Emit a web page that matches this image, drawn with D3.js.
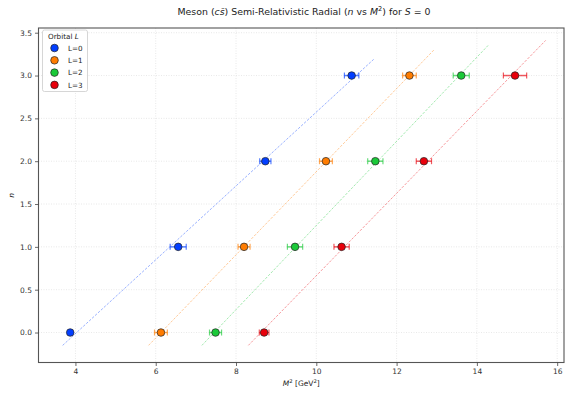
<!DOCTYPE html>
<html>
<head>
<meta charset="utf-8">
<script src="https://cdn.jsdelivr.net/npm/d3@7/dist/d3.min.js"></script>
<style>
  body { margin: 0; background: #fff; }
  svg { font-family: "DejaVu Sans", sans-serif; }
</style>
</head>
<body>
<svg id="chart" width="566" height="394"></svg>
<script>
// Radial quantum number n for each orbital series
const radialN = [0, 1, 2, 3];
const orbitalLabels = ["L=0", "L=1", "L=2", "L=3"];
const colors = ["#023eff", "#ff7c00", "#1ac938", "#e8000b"];

// Squared masses M^2 [GeV^2] per orbital series (n = 0..3)
const massSqL0 = [3.87, 6.56, 8.73, 10.88];
const massSqL1 = [6.13, 8.20, 10.24, 12.32];
const massSqL2 = [7.49, 9.47, 11.47, 13.61];
const massSqL3 = [8.70, 10.63, 12.68, 14.95];

// Uncertainties on M^2
const errL0 = [0.04, 0.20, 0.14, 0.18];
const errL1 = [0.16, 0.15, 0.16, 0.17];
const errL2 = [0.15, 0.19, 0.19, 0.20];
const errL3 = [0.12, 0.19, 0.19, 0.29];

// n range spanned by each fitted trajectory
const fitStartN = [-0.15, -0.15, -0.15, -0.15];
const fitEndN = [3.19, 3.30, 3.36, 3.41];

const xTicks = [4, 6, 8, 10, 12, 14, 16];
const yTicks = [0.0, 0.5, 1.0, 1.5, 2.0, 2.5, 3.0, 3.5];

const massSeries = [massSqL0, massSqL1, massSqL2, massSqL3];
const errSeries = [errL0, errL1, errL2, errL3];

const svg = d3.select("#chart");
const margin = { left: 38.5, right: 564, top: 28, bottom: 362.5 };

const x = d3.scaleLinear().domain([3.08, 16.17]).range([margin.left, margin.right]);
const y = d3.scaleLinear().domain([-0.35, 3.555]).range([margin.bottom, margin.top]);

// grid
const grid = svg.append("g");
grid.selectAll("line.gx").data(xTicks).join("line")
  .attr("x1", d => x(d)).attr("x2", d => x(d))
  .attr("y1", margin.top).attr("y2", margin.bottom)
  .attr("stroke", "#e2e2e2").attr("stroke-width", 0.8).attr("stroke-dasharray", "1,1.5");
grid.selectAll("line.gy").data(yTicks).join("line")
  .attr("x1", margin.left).attr("x2", margin.right)
  .attr("y1", d => y(d)).attr("y2", d => y(d))
  .attr("stroke", "#e2e2e2").attr("stroke-width", 0.8).attr("stroke-dasharray", "1,1.5");

// least-squares line M^2 = a + b n for each series
function fit(ms) {
  const mn = d3.mean(radialN), mm = d3.mean(ms);
  let sxy = 0, sxx = 0;
  radialN.forEach((n, i) => { sxy += (n - mn) * (ms[i] - mm); sxx += (n - mn) ** 2; });
  const b = sxy / sxx;
  return { a: mm - b * mn, b };
}

const plot = svg.append("g");
massSeries.forEach((ms, k) => {
  const f = fit(ms);
  const n0 = fitStartN[k], n1 = fitEndN[k];
  plot.append("line")
    .attr("x1", x(f.a + f.b * n0)).attr("y1", y(n0))
    .attr("x2", x(f.a + f.b * n1)).attr("y2", y(n1))
    .attr("stroke", colors[k]).attr("stroke-opacity", 0.45)
    .attr("stroke-width", 0.9).attr("stroke-dasharray", "2.5,1.5");
});

massSeries.forEach((ms, k) => {
  const g = plot.append("g");
  const pts = radialN.map((n, i) => ({ n, m: ms[i], e: errSeries[k][i] }));
  // horizontal error bars with caps
  g.selectAll("line.eb").data(pts).join("line")
    .attr("x1", d => x(d.m - d.e)).attr("x2", d => x(d.m + d.e))
    .attr("y1", d => y(d.n)).attr("y2", d => y(d.n))
    .attr("stroke", colors[k]).attr("stroke-opacity", 0.65).attr("stroke-width", 1.5);
  [-1, 1].forEach(s => {
    g.selectAll("line.cap" + s).data(pts).join("line")
      .attr("x1", d => x(d.m + s * d.e)).attr("x2", d => x(d.m + s * d.e))
      .attr("y1", d => y(d.n) - 3).attr("y2", d => y(d.n) + 3)
      .attr("stroke", colors[k]).attr("stroke-opacity", 0.65).attr("stroke-width", 1.2);
  });
  g.selectAll("circle").data(pts).join("circle")
    .attr("cx", d => x(d.m)).attr("cy", d => y(d.n)).attr("r", 3.8)
    .attr("fill", colors[k]).attr("stroke", "#222").attr("stroke-width", 0.7);
});

// frame
svg.append("rect")
  .attr("x", margin.left).attr("y", margin.top)
  .attr("width", margin.right - margin.left).attr("height", margin.bottom - margin.top)
  .attr("fill", "none").attr("stroke", "#555").attr("stroke-width", 1.1);

// axes
const xAxis = svg.append("g").attr("transform", `translate(0,${margin.bottom})`)
  .call(d3.axisBottom(x).tickValues(xTicks).tickSize(3.5).tickPadding(3).tickFormat(d3.format("d")));
const yAxis = svg.append("g").attr("transform", `translate(${margin.left},0)`)
  .call(d3.axisLeft(y).tickValues(yTicks).tickSize(3.5).tickPadding(3).tickFormat(d3.format(".1f")));
[xAxis, yAxis].forEach(a => {
  a.select(".domain").remove();
  a.selectAll(".tick line").attr("stroke", "#444").attr("stroke-width", 0.8);
  a.selectAll(".tick text").attr("fill", "#333").attr("font-size", 7.5)
    .attr("font-family", "DejaVu Sans, sans-serif");
});

// titles
const title = svg.append("text").attr("x", 304).attr("y", 14.5)
  .attr("text-anchor", "middle").attr("font-size", 9.4).attr("fill", "#222");
title.append("tspan").text("Meson (");
title.append("tspan").attr("font-style", "italic").text("c");
title.append("tspan").attr("font-style", "italic").text("s\u0304");
title.append("tspan").text(") Semi-Relativistic Radial (");
title.append("tspan").attr("font-style", "italic").text("n");
title.append("tspan").text(" vs ");
title.append("tspan").attr("font-style", "italic").text("M");
title.append("tspan").attr("font-size", 6.6).attr("dy", -3.8).text("2");
title.append("tspan").attr("dy", 3.8).text(") for ");
title.append("tspan").attr("font-style", "italic").text("S");
title.append("tspan").text(" = 0");

const xl = svg.append("text").attr("x", (margin.left + margin.right) / 2).attr("y", 386)
  .attr("text-anchor", "middle").attr("font-size", 7.5).attr("fill", "#222");
xl.append("tspan").attr("font-style", "italic").text("M");
xl.append("tspan").attr("font-size", 5.3).attr("dy", -3).text("2");
xl.append("tspan").attr("dy", 3).text(" [GeV");
xl.append("tspan").attr("font-size", 5.3).attr("dy", -3).text("2");
xl.append("tspan").attr("dy", 3).text("]");

svg.append("text").attr("transform", `translate(14,${(margin.top + margin.bottom) / 2}) rotate(-90)`)
  .attr("text-anchor", "middle").attr("font-size", 7.5).attr("font-style", "italic")
  .attr("fill", "#222").text("n");

// legend
const lg = svg.append("g");
lg.append("rect").attr("x", 42.5).attr("y", 30).attr("width", 45).attr("height", 61.5)
  .attr("rx", 2).attr("fill", "#fff").attr("fill-opacity", 0.85)
  .attr("stroke", "#ccc").attr("stroke-width", 0.8);
const lt = lg.append("text").attr("x", 48).attr("y", 39).attr("font-size", 7.2).attr("fill", "#222");
lt.append("tspan").text("Orbital ");
lt.append("tspan").attr("font-style", "italic").text("L");
orbitalLabels.forEach((lab, k) => {
  const cy = 48 + k * 12.3;
  lg.append("circle").attr("cx", 54.5).attr("cy", cy).attr("r", 3.8)
    .attr("fill", colors[k]).attr("stroke", "#222").attr("stroke-width", 0.7);
  lg.append("text").attr("x", 68).attr("y", cy + 2.6).attr("font-size", 7.2)
    .attr("fill", "#222").text(lab);
});
</script>
</body>
</html>
